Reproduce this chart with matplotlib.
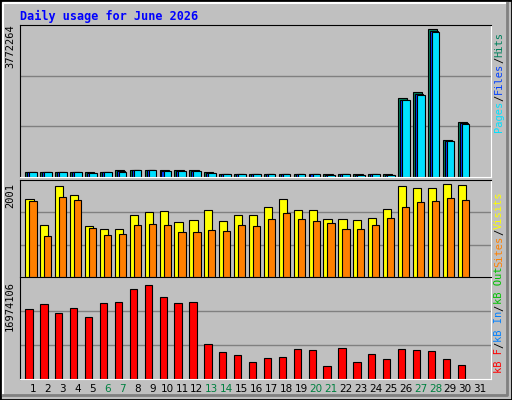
import numpy as np
import matplotlib.pyplot as plt

days = np.arange(1, 31)
hits = [140, 140, 140, 140, 115, 140, 166, 191, 191, 166, 166, 166, 115, 89, 89, 89, 89, 89, 89, 89,
        64, 89, 64, 89, 64, 2006, 2159, 3772, 935, 1394]
files = [138, 138, 138, 138, 112, 138, 150, 188, 188, 163, 163, 163, 112, 87, 87, 87, 87, 87, 87, 87,
         62, 87, 62, 87, 62, 1975, 2125, 3730, 930, 1375]
pages = [120, 120, 120, 120, 100, 120, 125, 170, 170, 150, 150, 150, 100, 75, 75, 75, 75, 75, 75, 75,
         50, 75, 50, 75, 50, 1950, 2100, 3700, 925, 1360]
visits = [1675, 1112, 1957, 1762, 1090, 1025, 1025, 1329, 1393, 1415, 1177, 1220, 1437, 1199, 1329,
          1329, 1502, 1675, 1437, 1437, 1242, 1242, 1220, 1264, 1458, 1957, 1913, 1913, 2001, 1978]
sites = [1632, 874, 1718, 1653, 1047, 895, 917, 1112, 1134, 1112, 960, 960, 1004, 982, 1112, 1090,
         1242, 1372, 1242, 1199, 1155, 1025, 1025, 1112, 1264, 1502, 1610, 1632, 1697, 1653]
kbytes = [12.51, 13.44, 11.96, 12.70, 11.21, 13.63, 13.81, 16.23, 16.97, 14.74, 13.63, 13.81, 6.38,
          4.89, 4.34, 3.04, 3.78, 3.96, 5.45, 5.27, 2.29, 5.64, 3.04, 4.52, 3.59, 5.45, 5.27, 5.08,
          3.59, 2.48]
hits = np.array(hits) * 1000
files = np.array(files) * 1000
pages = np.array(pages) * 1000
kbytes = np.array(kbytes) * 1e6
weekends = [6, 7, 13, 14, 20, 21, 27, 28]

W, H = 512, 400
fig = plt.figure(figsize=(W / 100, H / 100), dpi=100, facecolor='#C0C0C0')
mono = 'DejaVu Sans Mono'

# outer 3d border
fig.add_artist(plt.Rectangle((0, 0), 1, 1, transform=fig.transFigure, fill=False, ec='black', lw=2))
fig.add_artist(plt.Line2D([3 / W, 3 / W, 1 - 5 / W], [5 / H, 1 - 3 / H, 1 - 3 / H], color='white', lw=1.5))
fig.add_artist(plt.Line2D([3 / W, 1 - 5 / W, 1 - 5 / W], [5 / H, 5 / H, 1 - 3 / H], color='#808080', lw=2))

fig.text(20 / W, 1 - 16 / H, 'Daily usage for June 2026', color='#0000FF', fontsize=8.5,
         fontweight='bold', family=mono, va='center')

X0, X1 = 20, 491


def panel(top, bot, ymax):
    ax = fig.add_axes([X0 / W, 1 - bot / H, (X1 - X0) / W, (bot - top) / H])
    ax.set_facecolor('#C0C0C0')
    ax.set_xlim(0.13, 31.73)
    ax.set_ylim(0, ymax)
    for f in (1 / 3, 2 / 3):
        ax.axhline(ymax * f, color='#808080', lw=1, zorder=0)
    ax.set_xticks([])
    ax.set_yticks([])
    for s in ('top', 'left'):
        ax.spines[s].set_color('black')
    for s in ('bottom', 'right'):
        ax.spines[s].set_color('white')
    return ax


kw = dict(edgecolor='black', linewidth=0.8, align='edge')

ax1 = panel(25, 177, 3772264 * 152 / 148)
ax1.bar(days - 0.51, hits, width=0.62, color='#00805C', **kw)
ax1.bar(days - 0.38, files, width=0.58, color='#0040FF', **kw)
ax1.bar(days - 0.24, pages, width=0.51, color='#00E0FF', **kw)
fig.text(10 / W, 1 - 46 / H, '3772264', rotation=90, family=mono, fontsize=7.5, va='center', ha='center')

ax2 = panel(180, 277, 2001 * 96 / 92.4)
ax2.bar(days - 0.51, visits, width=0.55, color='#FFFF00', **kw)
ax2.bar(days - 0.24, sites, width=0.48, color='#FF8000', **kw)
fig.text(10 / W, 1 - 196 / H, '2001', rotation=90, family=mono, fontsize=7.5, va='center', ha='center')

ax3 = panel(277, 379, 16974106 * 98.7 / 91.3)
ax3.bar(days - 0.51, kbytes, width=0.49, color='#FF0000', **kw)
fig.text(10 / W, 1 - 306 / H, '16974106', rotation=90, family=mono, fontsize=7.5, va='center', ha='center')

# day labels
for d in range(1, 32):
    xpix = X0 + (d - 0.13) / 31.6 * (X1 - X0)
    fig.text(xpix / W, 1 - 389 / H, str(d), ha='center', va='center', fontsize=7.5,
             color='#008040' if d in weekends else 'black')


def right_label(parts, ycenter):
    # stack colored parts upward (rotated text)
    total = sum(len(t) for t, c in parts)
    ch = 6.3
    y = ycenter + total * ch / 2
    for t, c in parts:
        yc = y - len(t) * ch / 2
        fig.text(499 / W, 1 - yc / H, t, rotation=90, color=c, family=mono, fontsize=7.5,
                 ha='center', va='center')
        y -= len(t) * ch


right_label([('Pages', '#00E0FF'), ('/', 'black'), ('Files', '#0040FF'), ('/', 'black'),
             ('Hits', '#00805C')], 82)
right_label([('Sites', '#FF8000'), ('/', 'black'), ('Visits', '#FFFF00')], 229)
right_label([('kB F', '#FF0000'), ('/', 'black'), ('kB In', '#0080FF'), ('/', 'black'),
             ('kB Out', '#00C000')], 320)

fig.savefig('out.png', dpi=100, facecolor=fig.get_facecolor())
